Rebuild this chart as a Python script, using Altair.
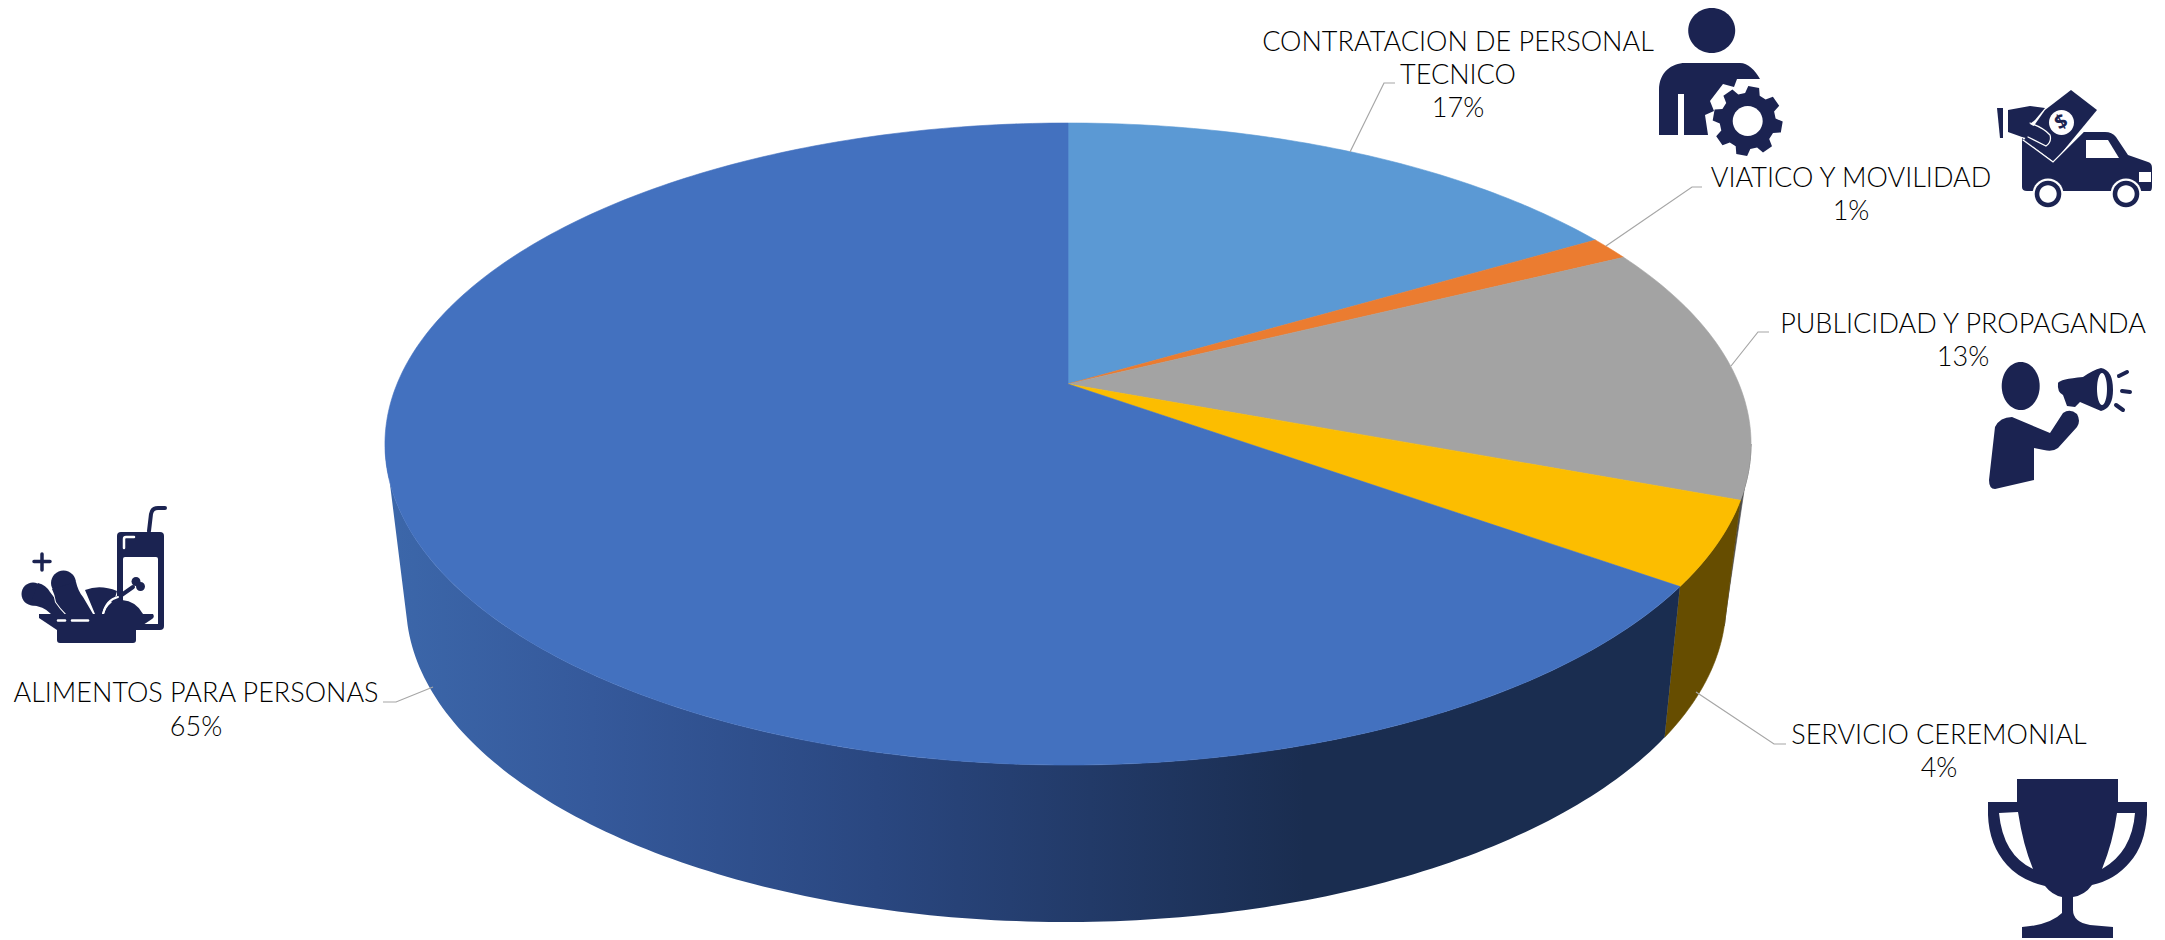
import math
import numpy as np
import pandas as pd
import altair as alt

# ---- data -----------------------------------------------------------------
categories = ["CONTRATACION DE PERSONAL TECNICO", "VIATICO Y MOVILIDAD",
              "PUBLICIDAD Y PROPAGANDA", "SERVICIO CEREMONIAL", "ALIMENTOS PARA PERSONAS"]
shares = [16.5, 1.2, 13.0, 4.2, 65.1]
top_colors = ["#5B99D4", "#EB7C30", "#A3A3A3", "#FCBD00", "#4371BF"]

label_lines = [
    ("CONTRATACION DE PERSONAL", 1458, 51), ("TECNICO", 1458, 84), ("17%", 1458, 117),
    ("VIATICO Y MOVILIDAD", 1851, 187), ("1%", 1851, 220),
    ("PUBLICIDAD Y PROPAGANDA", 1963, 333), ("13%", 1963, 366),
    ("SERVICIO CEREMONIAL", 1939, 744), ("4%", 1939, 777),
    ("ALIMENTOS PARA PERSONAS", 196, 702), ("65%", 196, 736),
]
leaders = [
    [(1350, 152), (1384, 83), (1395, 83)],
    [(1606, 246), (1692, 187), (1702, 187)],
    [(1731, 366), (1758, 332), (1769, 332)],
    [(1696, 692), (1774, 744), (1786, 744)],
    [(433, 687), (396, 702), (383, 702)],
]

# ---- page geometry --------------------------------------------------------
W, H = 2149, 932
xs = alt.Scale(domain=[8, 8 + W], range=[0, W], nice=False, zero=False)
ys = alt.Scale(domain=[8, 8 + H], range=[0, H], nice=False, zero=False)
NAVY = "#1B2351"

# perspective of the upper face
X0, Y0, P, A, B = 1068.0, 384.0, -0.187, 671.0, 309.8
ECX, ECY, EA, EB = 1068.0, 444.0, 683.0, 321.0
LCX, LCY, LA, LB = 1066.0, 603.0, 660.0, 319.0


def top_xy(cum):
    t = 2 * math.pi * cum / 100
    u, v = math.sin(t), -math.cos(t)
    d = 1 + P * v
    return X0 + A * u / d, Y0 + B * v / d


def ell_angle(cum):
    x, y = top_xy(cum)
    return math.degrees(math.atan2((y - ECY) / EB, (x - ECX) / EA))


def upper_e(s):
    r = math.radians(s)
    return ECX + EA * math.cos(r), ECY + EB * math.sin(r)


def lower_e(s):
    s2 = float(np.interp(s, [0, 10, 26.6, 180], [2, 4, 25.2, 176]))
    r = math.radians(s2)
    return LCX + LA * math.cos(r), LCY + LB * math.sin(r)


def poly(points, **mark):
    df = pd.DataFrame(points, columns=["x", "y"])
    df["i"] = range(len(df))
    return alt.Chart(df).mark_line(interpolate="linear", **mark).encode(
        x=alt.X("x:Q", scale=xs, axis=None),
        y=alt.Y("y:Q", scale=ys, axis=None),
        order="i:Q",
    )


def filled(points, fill, stroke=None):
    pts = list(points) + [points[0]]
    return poly(pts, fill=fill, stroke=stroke if stroke else (fill if isinstance(fill, str) else "#00000000"),
                strokeWidth=0.6, filled=True)


def arc(fn, a, b, n=160):
    return [fn(s) for s in np.linspace(a, b, n)]


layers = []

# ---- side wall ------------------------------------------------------------
cum = list(np.cumsum(shares))
s_gray_end = ell_angle(cum[2])
s_yellow_end = ell_angle(cum[3])

wall_grad = alt.Gradient(
    gradient="linear", x1=0, x2=1, y1=0, y2=0,
    stops=[alt.GradientStop(offset=0, color="#3C67AA"),
           alt.GradientStop(offset=0.16, color="#35599B"),
           alt.GradientStop(offset=0.38, color="#2A4780"),
           alt.GradientStop(offset=0.71, color="#1A2D50"),
           alt.GradientStop(offset=1, color="#1A2D50")],
)
layers.append(filled(arc(upper_e, 0, s_gray_end, 30) + arc(lower_e, s_gray_end, 0, 30), "#4F4F4F"))
layers.append(filled(arc(upper_e, s_gray_end, s_yellow_end, 40) + arc(lower_e, s_yellow_end, s_gray_end, 40), "#664D00"))
layers.append(filled(arc(upper_e, s_yellow_end, 180) + arc(lower_e, 180, s_yellow_end), wall_grad))

# ---- top face -------------------------------------------------------------
start = 0.0
for share, col in zip(shares, top_colors):
    n = max(6, int(share * 4))
    pts = [(X0, Y0)] + [top_xy(c) for c in np.linspace(start, start + share, n)]
    layers.append(filled(pts, col))
    start += share

# ---- leaders and labels ---------------------------------------------------
for l in leaders:
    layers.append(poly(l, stroke="#A6A6A6", strokeWidth=1.2))

lab = pd.DataFrame(label_lines, columns=["t", "x", "y"])
layers.append(alt.Chart(lab).mark_text(font="Lato", fontSize=27, fontWeight=300, color="#000000",
                                       align="center", baseline="alphabetic").encode(
    x=alt.X("x:Q", scale=xs, axis=None), y=alt.Y("y:Q", scale=ys, axis=None), text="t:N"))


# ---- icons (paths are in reference pixels around an anchor) ---------------
def icon(path, ax, ay, color=NAVY, stroke=False, sw=1.5):
    df = pd.DataFrame({"x": [ax], "y": [ay]})
    if stroke:
        m = alt.Chart(df).mark_point(shape=path, size=4, filled=False, opacity=1, stroke=color,
                                     strokeWidth=sw, strokeCap="round")
    else:
        m = alt.Chart(df).mark_point(shape=path, size=4, filled=True, opacity=1, fill=color, strokeWidth=0)
    return m.encode(x=alt.X("x:Q", scale=xs, axis=None), y=alt.Y("y:Q", scale=ys, axis=None))


def circ(cx, cy, rx, ry=None):
    ry = ry or rx
    return f"M{cx-rx},{cy} A{rx},{ry} 0 1 0 {cx+rx},{cy} A{rx},{ry} 0 1 0 {cx-rx},{cy} Z"


def gear(cx, cy, ro, ri, teeth=8, rot=10):
    pts = []
    for k in range(teeth):
        a = math.radians(rot + k * 360 / teeth)
        st = 2 * math.pi / teeth
        for f, r in [(-0.34, ri), (-0.20, ro), (0.20, ro), (0.34, ri)]:
            pts.append((cx + r * math.cos(a + f * st), cy + r * math.sin(a + f * st)))
    return "M" + " L".join(f"{x:.1f},{y:.1f}" for x, y in pts) + " Z"


# person with gear
a = (1630, 0)
layers += [
    icon(circ(81.7, 30.5, 23.5, 22.5), *a),
    icon("M29,135 L29,90 C29,72 42,63 55,63 L110,63 C118,63 125,70 130,79 L107,79 L104,87 L93,84 L80,101 "
         "L84,111 L75,115 L78,135 L54,135 L54,94 L48,94 L48,135 Z", *a),
    icon(gear(117.7, 121, 35, 28), *a),
    icon(circ(117.7, 121, 15), *a, color="#FFFFFF"),
]

# truck with banknote
a = (1980, 90)
layers += [
    icon("M42,48 L42,97 Q42,101 47,101 L170,101 Q172,101 172,96 L172,78 Q172,73 168,72 L148,65 L136,47 "
         "Q132,42 125,42 L103,42 L73,72 Z", *a),
    icon("M106,50 L128,50 L139,68 L106,68 Z", *a, color="#FFFFFF"),
    icon("M159,82 L171,82 L171,92 L159,92 Z", *a, color="#FFFFFF"),
]
for wx in (68, 146):
    layers += [icon(circ(wx, 104, 15.5), *a, color="#FFFFFF"),
               icon(circ(wx, 104, 13.3), *a),
               icon(circ(wx, 104, 8.7), *a, color="#FFFFFF")]
layers += [
    icon("M65,20 L91,0 L117,20 L74,72 L44,50 Z", *a),
    icon("M28,20 L50,16 L65,18 L55,30 L50,34 L70,45 L60,52 L42,47 L28,42 Z", *a),
    icon("M17,18 L23,18 L23,48 L20,48 Z", *a),
    icon("M43,50 L73,72 L103,42", *a, color="#FFFFFF", stroke=True, sw=1.2),
    icon("M48,47 L66,56 Q72,52 70,45 Q64,38 50,33", *a, color="#FFFFFF", stroke=True, sw=1.2),
    icon(circ(81.5, 32.5, 12.5), *a, color="#FFFFFF"),
]
dollar = pd.DataFrame({"x": [2061.5], "y": [122.5], "t": ["$"]})
layers.append(alt.Chart(dollar).mark_text(font="Open Sans", fontSize=20, fontWeight="bold", color=NAVY, angle=330,
                                          align="center", baseline="middle").encode(
    x=alt.X("x:Q", scale=xs, axis=None), y=alt.Y("y:Q", scale=ys, axis=None), text="t:N"))

# person with megaphone
a = (1650, 280)
layers += [
    icon(circ(370.7, 106, 19, 24), *a),
    icon("M345,147 Q350,137 362,137 L400,153 L413,133 Q420,128 427,134 Q431,141 427,147 L408,168 "
         "Q403,172 394,170 L384,168 L384,200 L345,209 Q339,209 339,200 Z", *a),
    icon("M408,103 Q410,99 433,97 Q443,90 451,88 Q463,90 463,110 Q463,128 451,131 L430,122 L425,127 "
         "L417,126 L413,115 Q407,112 408,103 Z", *a),
    icon(circ(452, 109, 5, 16), *a, color="#FFFFFF"),
    icon("M469,96 L477,92", *a, stroke=True, sw=4),
    icon("M472,111 L480,112", *a, stroke=True, sw=4),
    icon("M466,125 L473,130", *a, stroke=True, sw=4),
]

# trophy
a = (1640, 570)
layers += [
    icon("M377,209 L478,209 L478,232 L507,232 L507,245 Q505,275 490,292 Q475,310 452,315 Q445,325 433,327 "
         "L433,340 Q433,352 450,355 L473,357 L473,368 L382,368 L382,357 Q410,355 422,343 L422,327 "
         "Q412,325 405,316 Q380,310 367,295 Q349,275 348,245 L348,232 L377,232 Z", *a),
    icon("M359,243 L378,242 Q383,275 393,299 Q363,285 359,243 Z", *a, color="#FFFFFF"),
    icon("M477,243 L495,243 Q492,282 462,299 Q473,272 477,243 Z", *a, color="#FFFFFF"),
]

# food
a = (0, 490)
layers += [
    icon("M117,46 Q117,42 121,42 L160,42 Q164,42 164,46 L164,136 Q164,140 160,140 L117,140 Z", *a),
    icon("M123,69 Q123,67 125,67 L156,67 Q158,67 158,69 L158,134 L123,134 Z", *a, color="#FFFFFF"),
    icon("M124,58 L124,49 Q124,47 126,47 L134,47", *a, color="#FFFFFF", stroke=True, sw=2.5),
    icon("M149,41 L151,24 Q152,18 158,18 L165,18", *a, stroke=True, sw=4),
    icon("M34,71.5 L50,71.5 M42,64 L42,80", *a, stroke=True, sw=3.5),
    # chicken back, bone and front mound
    icon("M85,100 Q100,94 117,101 L115,108 Q105,112 102,124 L95,124 Q90,112 85,100 Z", *a),
    icon("M113,111 L133,97", *a, stroke=True, sw=4),
    icon(circ(136, 91.5, 4.5), *a),
    icon(circ(140.5, 96.5, 4.5), *a),
    icon("M104,124 Q108,110 122,110 Q136,111 143,124 Z", *a),
    icon("M103,124 Q106,110 118,107", *a, color="#FFFFFF", stroke=True, sw=2),
    # drumsticks: round knob plus tapered leg
    icon(circ(33, 104, 11.5), *a),
    icon("M38,93 Q46,95 50,102 Q54,108 58,111 L68,124 L51,124 Q44,116 30,115 Z", *a),
    icon("M52,99 L76,92 Q78,101 83,107 Q86,112 93,124 L66,124 Q60,118 56,112 Q55,105 52,99 Z",
         *a, color="#FFFFFF", stroke=True, sw=2),
    icon(circ(63.5, 93, 12.5), *a),
    icon("M52,99 L76,92 Q78,101 83,107 Q86,112 93,124 L66,124 Q60,118 56,112 Q55,105 52,99 Z", *a),
    icon("M39,124 L153,124 Q155,127 152,129 L143,135 L136,135 L136,150 Q136,153 133,153 L60,153 "
         "Q57,153 57,150 L57,140 Q45,132 39,128 Z", *a),
    icon("M58,130.5 L65,130.5", *a, color="#FFFFFF", stroke=True, sw=2.5),
    icon("M72,130.5 L88,130.5", *a, color="#FFFFFF", stroke=True, sw=2.5),
]

chart = alt.layer(*layers).properties(
    width=W, height=H, padding=0, autosize=alt.AutoSizeParams(type="none"),
    background="#FFFFFF",
).configure_view(stroke=None)

chart.save("out.html", embed_options={"renderer": "svg", "actions": False})
